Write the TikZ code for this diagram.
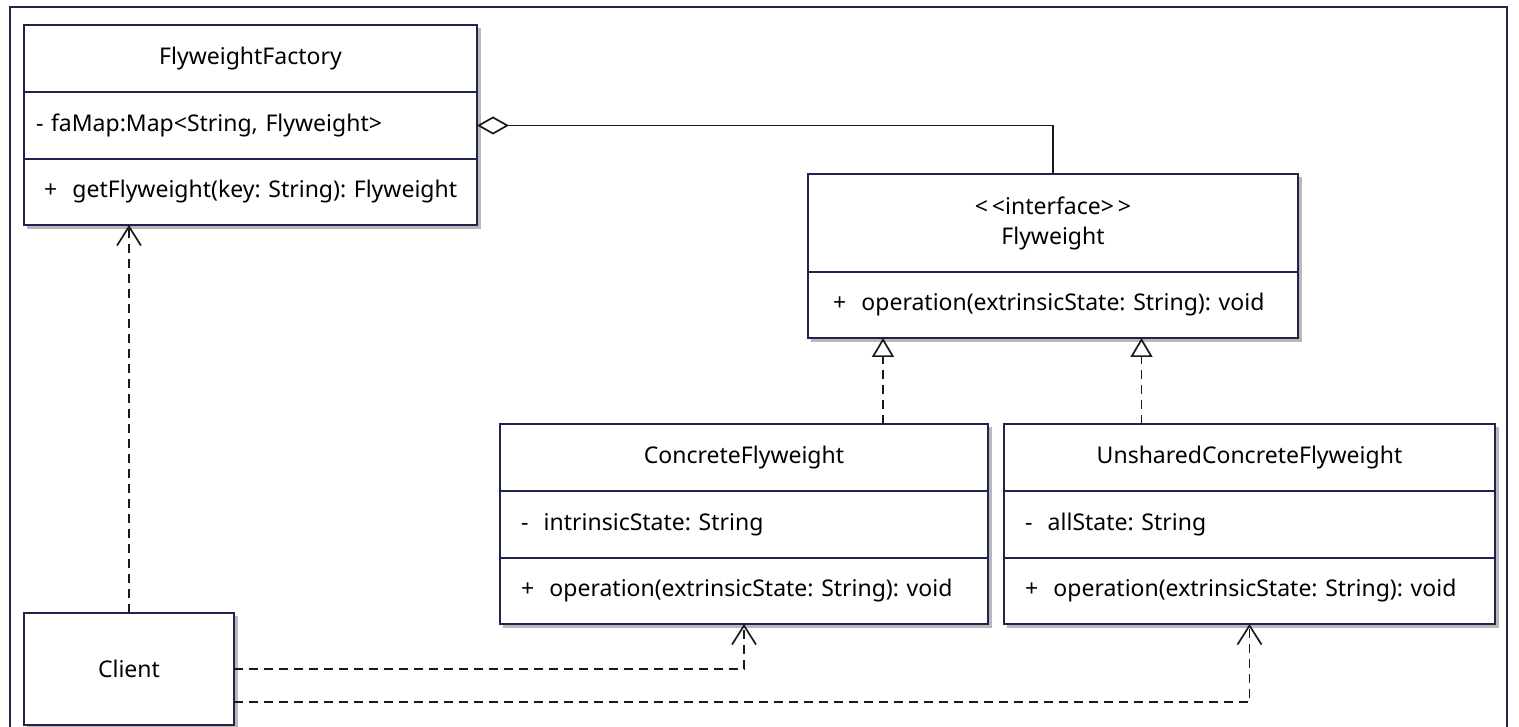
\documentclass[tikz,border=0pt]{standalone}
\usepackage{fontspec}
\setmainfont{Noto Sans}
\usetikzlibrary{arrows.meta, positioning, shadows}

\definecolor{boxline}{HTML}{1E2350}
\definecolor{linecol}{HTML}{1A1A1A}
\frenchspacing

\begin{document}
\begin{tikzpicture}[
	x=1pt, y=-1pt,
	font=\fontsize{23}{30}\selectfont,
	% Style for one compartment of a class box
	part/.style={rectangle, draw=boxline, line width=1.7pt, fill=white, inner sep=0pt, outer sep=0pt,
		drop shadow={shadow xshift=3.5pt, shadow yshift=-3.5pt, fill=black!28, draw=black!28, opacity=1}},
	% Class name compartment
	head/.style={part, align=center},
	% Attribute / operation compartment (text width, indent)
	member/.style 2 args={part, minimum height=66pt, text width=#1, inner xsep=#2, align=left},
	% Connectors
	wire/.style={draw=linecol, line width=1.7pt},
	dep/.style={wire, dash pattern=on 9pt off 6pt, -{Straight Barb[length=19pt, width=24pt]}},
	impl/.style={wire, dash pattern=on 9pt off 6pt, -{Triangle[open, length=19pt, width=22pt]}},
	aggr/.style={wire, -{Diamond[open, length=32pt, width=18pt]}}
	]
	\useasboundingbox (0,0) rectangle (1519,727);
	
	% 1. Outer frame
	\draw[draw=boxline, line width=2pt] (10,740) |- (1507,7) -- (1507,740);
	
	% 2. FlyweightFactory
	\node[head, anchor=north west, minimum width=453pt, minimum height=67pt] (fac) at (24,25) {FlyweightFactory};
	\node[member={429pt}{12pt}, minimum height=67pt, below=0pt of fac] (facAttr) {- faMap:Map<String, Flyweight>};
	\node[member={419pt}{17pt}, below=0pt of facAttr] (facOps) {\hspace*{3pt}+~~getFlyweight(key: String): Flyweight};
	
	% 3. Flyweight interface
	\node[head, anchor=north west, minimum width=490pt, minimum height=98pt] (fly) at (808,174) {<\,<interface>\,>\\Flyweight};
	\node[member={440pt}{25pt}, below=0pt of fly] (flyOps) {+~~operation(extrinsicState: String): void};
	
	% 4. Concrete classes
	\node[head, anchor=north west, minimum width=488pt, minimum height=67pt] (con) at (500,424) {ConcreteFlyweight};
	\node[member={446pt}{21pt}, minimum height=67pt, below=0pt of con] (conAttr) {-~~intrinsicState: String};
	\node[member={446pt}{21pt}, below=0pt of conAttr] (conOps) {+~~operation(extrinsicState: String): void};
	
	\node[head, anchor=north west, minimum width=491pt, minimum height=67pt] (uns) at (1004,424) {UnsharedConcreteFlyweight};
	\node[member={449pt}{21pt}, minimum height=67pt, below=0pt of uns] (unsAttr) {-~~allState: String};
	\node[member={449pt}{21pt}, below=0pt of unsAttr] (unsOps) {+~~operation(extrinsicState: String): void};
	
	% 5. Client
	\node[head, anchor=north west, minimum width=210pt, minimum height=112pt] (client) at (24,613) {Client};
	
	% 6. Aggregation: factory holds the flyweights
	\draw[aggr] (fly.north) |- (facAttr.east);
	
	% 7. Realization of the interface
	\draw[impl] ([xshift=139pt]con.north) -- ([xshift=139pt]con.north |- flyOps.south);
	\draw[impl] ([xshift=-108pt]uns.north) -- ([xshift=-108pt]uns.north |- flyOps.south);
	
	% 8. Client dependencies
	\draw[dep] (client.north) -- (client.north |- facOps.south);
	\draw[dep] (client.east) -| (conOps.south);
	\draw[dep] ([yshift=-33pt]client.east) -| (unsOps.south);
	
\end{tikzpicture}
\end{document}
